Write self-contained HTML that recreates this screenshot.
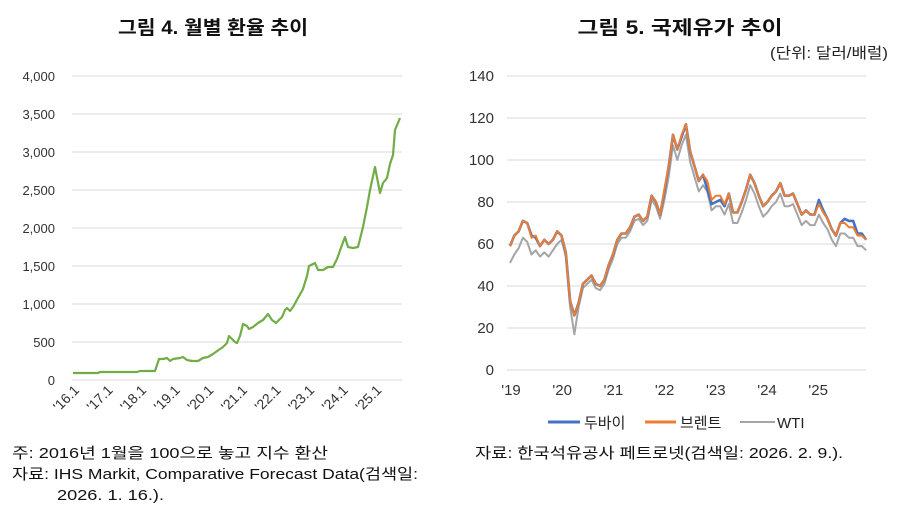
<!DOCTYPE html>
<html><head><meta charset="utf-8"><style>
html,body{margin:0;padding:0;background:#fff;}
svg{display:block;font-family:"Liberation Sans","Noto Sans CJK KR",sans-serif;}
</style></head><body>
<svg id="s" width="899" height="513" viewBox="0 0 899 513" xmlns="http://www.w3.org/2000/svg">
<text x="213" y="34" text-anchor="middle" font-size="19" font-weight="bold" fill="#111" textLength="190" lengthAdjust="spacingAndGlyphs">그림 4. 월별 환율 추이</text>
<text x="680" y="34" text-anchor="middle" font-size="19" font-weight="bold" fill="#111" textLength="205" lengthAdjust="spacingAndGlyphs">그림 5. 국제유가 추이</text>
<text x="888" y="58" text-anchor="end" font-size="15" fill="#222" textLength="118" lengthAdjust="spacingAndGlyphs">(단위: 달러/배럴)</text>
<g id="lg" stroke="#d9d9d9" stroke-width="1"></g>
<g id="ll" font-size="13" fill="#333" text-anchor="end"></g>
<polyline fill="none" stroke="#70ad47" stroke-width="2.2" stroke-linejoin="round" points="73,373 98,373 100,372 137,372 140,371 155,371 159,359 163,359 167,358 170,361 173,359 180,358 183,357 187,360 192,361 198,361 203,358 208,357 213,354 220,349 223,347 227,343 229,336 232,339 235,342 237,343 240,336 243,324 247,326 249,329 253,327 258,323 263,320 268,314 272,320 276,323 282,317 285,310 287,308 290,311 293,307 298,298 303,289 307,276 309,266 315,263 318,270 323,270 328,267 333,267 337,259 342,245 345,237 348,247 353,248 358,247 363,227 367,207 370,190 375,167 380,193 383,183 387,178 390,164 393,155 395,130 400,118"/>
<g id="rg" stroke="#d9d9d9" stroke-width="1"></g>
<g id="rl" font-size="15" fill="#333"></g>
<g id="ser"></g>
<line x1="548" y1="422" x2="580" y2="422" stroke="#4472c4" stroke-width="3"/>
<text x="584" y="428" font-size="15" fill="#222">두바이</text>
<line x1="645" y1="422" x2="676" y2="422" stroke="#ed7d31" stroke-width="3"/>
<text x="680" y="428" font-size="15" fill="#222">브렌트</text>
<line x1="740" y1="422" x2="775" y2="422" stroke="#a5a5a5" stroke-width="2"/>
<text x="777" y="428" font-size="15" fill="#222">WTI</text>
<g font-size="15" fill="#111">
<text x="12" y="458" textLength="316" lengthAdjust="spacingAndGlyphs">주: 2016년 1월을 100으로 놓고 지수 환산</text>
<text x="12" y="479" textLength="406" lengthAdjust="spacingAndGlyphs">자료: IHS Markit, Comparative Forecast Data(검색일:</text>
<text x="57" y="500" textLength="107" lengthAdjust="spacingAndGlyphs">2026. 1. 16.).</text>
<text x="475" y="458" textLength="368" lengthAdjust="spacingAndGlyphs">자료: 한국석유공사 페트로넷(검색일: 2026. 2. 9.).</text>
</g>
</svg>
<script>
var NS="http://www.w3.org/2000/svg";
function el(p,t,a,tx){var e=document.createElementNS(NS,t);for(var k in a)e.setAttribute(k,a[k]);if(tx!=null)e.textContent=tx;document.getElementById(p).appendChild(e);return e;}
for(var i=0;i<=8;i++){var y=380-i*38;el("lg","line",{x1:72,x2:402,y1:y,y2:y});
el("ll","text",{x:55,y:y+5},i==0?"0":(i*500).toLocaleString("en-US"));}
var yrs=["'16.1","'17.1","'18.1","'19.1","'20.1","'21.1","'22.1","'23.1","'24.1","'25.1"];
for(var i=0;i<yrs.length;i++){var x=80+i*33.6;el("ll","text",{x:x,y:391,"font-size":14,transform:"rotate(-45 "+x+" 391)"},yrs[i]);}
for(var i=0;i<=7;i++){var y=370-i*42;el("rg","line",{x1:507,x2:866,y1:y,y2:y});
el("rl","text",{x:494,y:y+5,"text-anchor":"end"},String(i*20));}
var ry=["'19","'20","'21","'22","'23","'24","'25"];
for(var i=0;i<7;i++)el("rl","text",{x:511+i*51.2,y:395,"text-anchor":"middle"},ry[i]);
var brent=[59,64,66,71,70,63,64,59,62,60,62,66, 64,56,33,26,32,41,43,45,41,40,43,50, 55,62,65,65,68,73,74,71,73,83,80,74, 86,97,112,105,112,117,104,97,90,93,90,81, 83,83,79,84,75,75,80,86,93,89,83,78, 80,83,85,89,83,83,84,79,74,76,74,74, 79,75,72,67,64,70,70,68,68,64,64,62];
var dub=brent.slice(), wti=brent.slice();
var dd={5:1,6:-1,36:-1,40:-1,46:-4,47:-2,48:-3,49:-2,50:-1,72:2,73:1,78:2,79:3,80:3,81:1,82:1};
for(var k in dd)dub[k]+=dd[k];
for(var i=0;i<84;i++){var d=5; if(i<12)d=[8,9,8,8,9,8,7,5,6,6,5,6][i]; else if(i<36)d=2; wti[i]=brent[i]-d;}
wti[15]=17;wti[14]=30;
function pts(a){return a.map(function(v,i){return (510+i*4.29).toFixed(1)+","+(370-v*2.1).toFixed(1)}).join(" ");}
el("ser","polyline",{points:pts(wti),fill:"none",stroke:"#a5a5a5","stroke-width":2,"stroke-linejoin":"round"});
el("ser","polyline",{points:pts(dub),fill:"none",stroke:"#4472c4","stroke-width":2.6,"stroke-linejoin":"round"});
el("ser","polyline",{points:pts(brent),fill:"none",stroke:"#ed7d31","stroke-width":2,"stroke-linejoin":"round"});
</script>
</body></html>
